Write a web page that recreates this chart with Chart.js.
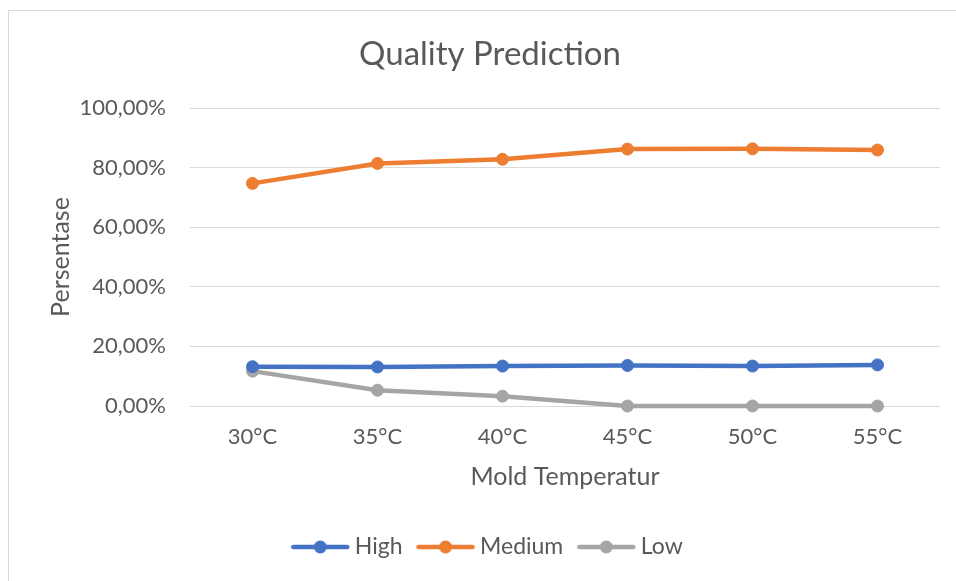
<!DOCTYPE html>
<html>
<head>
<meta charset="utf-8">
<script src="https://cdn.jsdelivr.net/npm/chart.js@4.4.1/dist/chart.umd.min.js"></script>
<style>
body { margin: 0; background: #fff; }
#frame { position: absolute; left: 8px; top: 10px; width: 960px; height: 590px; border: 1px solid #d9d9d9; }
#c { position: absolute; left: 0; top: 0; }
</style>
</head>
<body>
<div id="frame"></div>
<canvas id="c" width="956" height="581"></canvas>
<script>
const temperatures = ["30°C", "35°C", "40°C", "45°C", "50°C", "55°C"];
const highValues = [13.2, 13.1, 13.4, 13.6, 13.4, 13.8];
const mediumValues = [74.7, 81.4, 82.8, 86.2, 86.3, 85.9];
const lowValues = [11.7, 5.3, 3.3, 0, 0, 0];
const yTickValues = [0, 20, 40, 60, 80, 100];
const yTickLabels = ["0,00%", "20,00%", "40,00%", "60,00%", "80,00%", "100,00%"];

const textColor = '#595959';
const fontFamily = 'Lato, "Open Sans", sans-serif';

// little line + dot, like the excel legend
function legendMarker(color) {
    const cv = document.createElement('canvas');
    cv.width = 60;
    cv.height = 16;
    const g = cv.getContext('2d');
    g.strokeStyle = color;
    g.lineWidth = 4.5;
    g.lineCap = 'round';
    g.beginPath();
    g.moveTo(3, 8);
    g.lineTo(57, 8);
    g.stroke();
    g.fillStyle = color;
    g.beginPath();
    g.arc(30, 8, 6.5, 0, Math.PI * 2);
    g.fill();
    return cv;
}

function series(label, data, color) {
    return {
        label: label,
        data: data,
        borderColor: color,
        backgroundColor: color,
        borderWidth: 4.5,
        pointRadius: 6,
        pointBorderWidth: 1,
        pointHoverRadius: 6,
        tension: 0,
        clip: false
    };
}

new Chart(document.getElementById('c'), {
    type: 'line',
    data: {
        labels: temperatures,
        datasets: [
            series('High', highValues, '#4472C4'),
            series('Medium', mediumValues, '#ED7D31'),
            series('Low', lowValues, '#A5A5A5')
        ]
    },
    options: {
        responsive: false,
        animation: false,
        layout: { padding: { left: 40, right: 16, top: 0, bottom: 12.5 } },
        plugins: {
            title: {
                display: true,
                text: 'Quality Prediction',
                color: textColor,
                font: { family: fontFamily, size: 33, weight: 'normal' },
                padding: { top: 35, bottom: 33.4 }
            },
            legend: {
                position: 'bottom',
                labels: {
                    color: textColor,
                    font: { family: fontFamily, size: 23 },
                    usePointStyle: true,
                    pointStyleWidth: 46,
                    padding: 20,
                    generateLabels: function(chart) {
                        return chart.data.datasets.map((ds, i) => ({
                            text: ds.label,
                            fontColor: textColor,
                            pointStyle: legendMarker(ds.borderColor),
                            lineWidth: 0,
                            strokeStyle: ds.borderColor,
                            fillStyle: ds.borderColor,
                            hidden: false,
                            datasetIndex: i
                        }));
                    }
                }
            },
            tooltip: { enabled: false }
        },
        scales: {
            x: {
                offset: true,
                grid: { display: false },
                border: { display: false },
                ticks: {
                    color: textColor,
                    font: { family: fontFamily, size: 22 },
                    padding: 10
                },
                title: {
                    display: true,
                    text: 'Mold Temperatur',
                    color: textColor,
                    font: { family: fontFamily, size: 25 },
                    padding: { top: 0, bottom: 23.5 }
                },
                afterFit: function(scale) { scale.height = 109.5; }
            },
            y: {
                min: 0,
                max: 100,
                afterBuildTicks: function(scale) {
                    scale.ticks = yTickValues.map(v => ({ value: v }));
                },
                grid: { color: '#d9d9d9', lineWidth: 1, drawTicks: false },
                border: { display: false },
                ticks: {
                    color: textColor,
                    font: { family: fontFamily, size: 22 },
                    padding: 24,
                    callback: function(value) {
                        return yTickLabels[yTickValues.indexOf(value)];
                    }
                },
                title: {
                    display: true,
                    text: 'Persentase',
                    color: textColor,
                    font: { family: fontFamily, size: 25 },
                    padding: { top: 6, bottom: 0 }
                },
                afterFit: function(scale) { scale.width = 150; }
            }
        }
    }
});
</script>
</body>
</html>
